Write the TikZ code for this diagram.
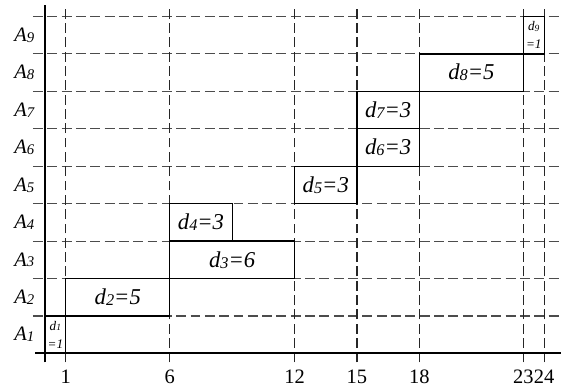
\documentclass[tikz,border=0pt]{standalone}
\usepackage{fontspec}
\usepackage{graphicx}
\setmainfont{Liberation Serif}
\usetikzlibrary{positioning}
\newcommand{\sublbl}[2]{\textit{#1\raisebox{-0.1ex}{\scalebox{0.72}{#2}}}}
\tikzset{
	gridline/.style ={dash pattern=on 6.8pt off 3pt, line width=0.8pt, draw=black!70},
	colline/.style  ={dash pattern=on 6.8pt off 3pt, line width=0.8pt, draw=black!85},
	axisline/.style ={line width=1.4pt, draw=black},
	taskbox/.style  ={line width=0.9pt, draw=black},
	tasklbl/.style  ={font=\fontsize{15.5}{18}\selectfont\itshape, inner sep=0pt},
	smalllbl/.style ={font=\fontsize{9}{12.5}\selectfont\itshape, align=center, inner sep=0pt},
	rowlbl/.style   ={font=\fontsize{14}{16}\selectfont, inner sep=0pt},
	ticklbl/.style  ={font=\fontsize{14}{16}\selectfont, inner sep=0pt},
}
\begin{document}
\begin{tikzpicture}[x=0.5cm, y=0.9cm]
	\useasboundingbox (-2.163,-0.99) rectangle (24.81,9.44);
	% grid
	\foreach \r in {1,...,9} \draw[gridline] (-0.58,\r) -- (24.81,\r);
	\foreach \c in {1,6,12,15,18,23,24} \draw[colline] (\c,-0.24) -- (\c,9.30);
	% task boxes: start/end/row
	\foreach \s/\e/\r in {0/1/0, 1/6/1, 6/12/2, 6/9/3, 12/15/4, 15/18/5, 15/18/6, 18/23/7, 23/24/8}
		\draw[taskbox] (\s,\r) rectangle (\e,\r+1);
	% axes
	\draw[axisline] (-0.48,0) -- (24.81,0);
	\draw[axisline] (0,-0.24) -- (0,9.30);
	% row labels
	\foreach \r in {1,...,9}
		\node[rowlbl] (a\r) at (-1.0,\r-0.5) {\sublbl{A}{\r}};
	% time ticks
	\foreach \c in {1,6,12,15,18,23,24}
		\node[ticklbl] (t\c) at (\c,-0.63) {\c};
	% durations
	\node[smalllbl] (d1) at (0.5,0.5) {\sublbl{d}{1}\\=1};
	\node[tasklbl] (d2) at (3.5,1.5) {\sublbl{d}{2}=5};
	\node[tasklbl] (d3) at (9,2.5) {\sublbl{d}{3}=6};
	\node[tasklbl] (d4) at (7.5,3.5) {\sublbl{d}{4}=3};
	\node[tasklbl] (d5) at (13.5,4.5) {\sublbl{d}{5}=3};
	\node[tasklbl] (d6) at (16.5,5.5) {\sublbl{d}{6}=3};
	\node[tasklbl] (d7) at (16.5,6.5) {\sublbl{d}{7}=3};
	\node[tasklbl] (d8) at (20.5,7.5) {\sublbl{d}{8}=5};
	\node[smalllbl] (d9) at (23.5,8.5) {\sublbl{d}{9}\\=1};
\end{tikzpicture}
\end{document}
